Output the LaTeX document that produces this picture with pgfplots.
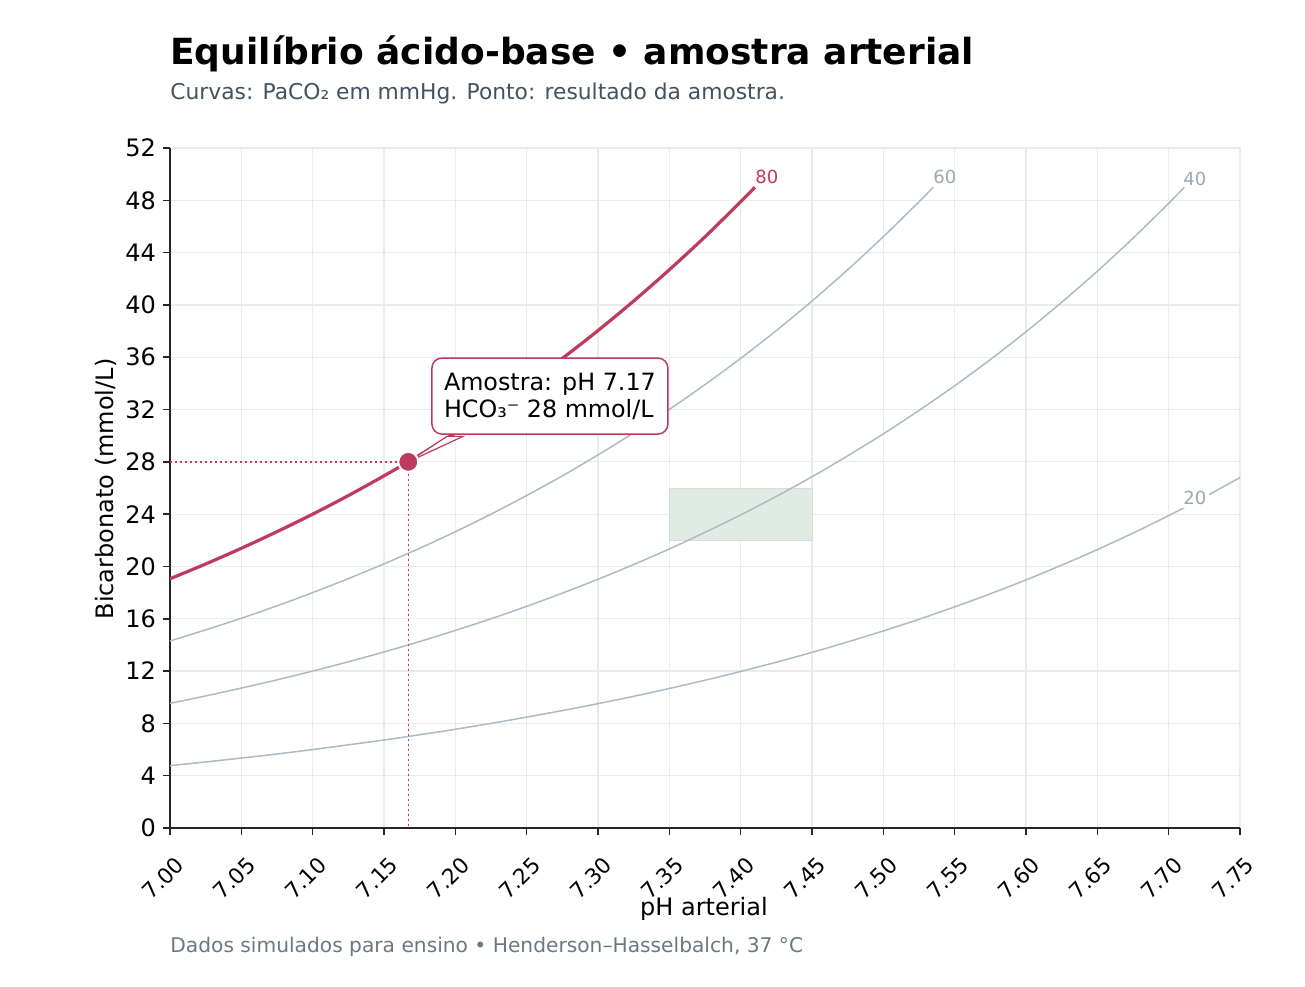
\documentclass[border=0pt]{standalone}
\usepackage{fontspec}
\setmainfont{DejaVu Sans}
\usepackage{pgfplots}
\pgfplotsset{compat=1.18}

\definecolor{crim}{HTML}{BE3A5F}
\definecolor{curvegray}{HTML}{AEBAC4}
\definecolor{labgray}{HTML}{9AA8B4}
\definecolor{gridc}{HTML}{EBEBEB}
\definecolor{axisc}{HTML}{262626}
\definecolor{normfill}{HTML}{E0EBE5}
\definecolor{normedge}{HTML}{D2E1D8}
\definecolor{subc}{HTML}{44525E}
\definecolor{footc}{HTML}{6B7884}

% HCO3 (mmol/L) against pH for each PaCO2 isobar
\pgfplotstableread{
ph    hco
7.000 4.77
7.025 5.05
7.050 5.35
7.075 5.66
7.100 6.00
7.125 6.36
7.150 6.73
7.175 7.13
7.200 7.55
7.225 8.00
7.250 8.48
7.275 8.98
7.300 9.51
7.325 10.07
7.350 10.67
7.375 11.30
7.400 11.97
7.425 12.68
7.450 13.43
7.475 14.23
7.500 15.07
7.525 15.96
7.550 16.91
7.575 17.91
7.600 18.97
7.625 20.10
7.650 21.29
7.675 22.55
7.700 23.89
7.725 25.30
7.750 26.80
}\pcotwenty

\pgfplotstableread{
ph    hco
7.000 9.53
7.025 10.10
7.050 10.70
7.075 11.33
7.100 12.00
7.125 12.71
7.150 13.46
7.175 14.26
7.200 15.11
7.225 16.00
7.250 16.95
7.275 17.96
7.300 19.02
7.325 20.15
7.350 21.34
7.375 22.61
7.400 23.94
7.425 25.36
7.450 26.86
7.475 28.46
7.500 30.14
7.525 31.93
7.550 33.82
7.575 35.82
7.600 37.95
7.625 40.20
7.650 42.58
7.675 45.10
7.700 47.77
7.711 49.00
}\pcoforty

\pgfplotstableread{
ph    hco
7.000 14.30
7.025 15.15
7.050 16.04
7.075 16.99
7.100 18.00
7.125 19.07
7.150 20.20
7.175 21.39
7.200 22.66
7.225 24.00
7.250 25.43
7.275 26.93
7.300 28.53
7.325 30.22
7.350 32.01
7.375 33.91
7.400 35.91
7.425 38.04
7.450 40.30
7.475 42.69
7.500 45.22
7.525 47.89
7.535 49.00
}\pcosixty

\pgfplotstableread{
ph    hco
7.000 19.06
7.025 20.19
7.050 21.39
7.075 22.66
7.100 24.00
7.125 25.42
7.150 26.93
7.175 28.52
7.200 30.21
7.225 32.00
7.250 33.90
7.275 35.91
7.300 38.04
7.325 40.30
7.350 42.69
7.375 45.21
7.400 47.89
7.410 49.00
}\pcoeighty

\begin{document}
\begin{tikzpicture}
\path[use as bounding box] (0,0) rectangle (652.5pt,493pt);
\begin{axis}[
  at={(85pt,79pt)}, anchor=south west,
  scale only axis, width=535pt, height=340pt,
  xmin=7, xmax=7.75, ymin=0, ymax=52,
  axis x line*=bottom, axis y line*=left,
  axis line style={axisc, line width=0.75pt},
  xtick={7.00,7.05,7.10,7.15,7.20,7.25,7.30,7.35,7.40,7.45,7.50,7.55,7.60,7.65,7.70,7.75},
  ytick={0,4,8,12,16,20,24,28,32,36,40,44,48,52},
  xticklabel={\pgfmathprintnumber[fixed,fixed zerofill,precision=2]{\tick}},
  /pgf/number format/assume math mode=true,
  tick align=outside, major tick length=3.5pt,
  tick style={axisc, line width=0.75pt},
  grid=major, major grid style={gridc, line width=0.6pt},
  yticklabel style={font=\fontsize{12}{14}\selectfont},
  xticklabel style={font=\fontsize{10.8}{13}\selectfont, anchor=center, xshift=-3.5pt, yshift=-21.5pt, rotate=45},
  clip=false,
]
% normal range
\addplot[fill=normfill, draw=normedge, line width=0.5pt] coordinates {(7.35,22) (7.45,22) (7.45,26) (7.35,26) (7.35,22)};

\addplot[curvegray, line width=0.75pt, smooth] table[x=ph, y=hco] {\pcotwenty};
\addplot[curvegray, line width=0.75pt, smooth] table[x=ph, y=hco] {\pcoforty};
\addplot[curvegray, line width=0.75pt, smooth] table[x=ph, y=hco] {\pcosixty};
\addplot[crim, line width=1.6pt, smooth] table[x=ph, y=hco] {\pcoeighty};

% isobar labels
\node[anchor=west, fill=white, inner sep=1.5pt, text=labgray, font=\fontsize{9}{10}\selectfont] at (axis cs:7.708,25.23) {20};
\node[anchor=west, inner sep=1.5pt, text=labgray, font=\fontsize{9}{10}\selectfont] at (axis cs:7.708,49.6) {40};
\node[anchor=west, inner sep=1.5pt, text=labgray, font=\fontsize{9}{10}\selectfont] at (axis cs:7.5327,49.77) {60};
\node[anchor=west, inner sep=1.5pt, text=crim, font=\fontsize{9}{10}\selectfont] at (axis cs:7.4079,49.77) {80};

% guide lines to the sample
\addplot[crim, line width=0.75pt, dash pattern=on 1.2pt off 1.3pt] coordinates {(7.0,28) (7.167,28) (7.167,0)};

% annotation
\draw[crim, line width=0.6pt, fill=white] (axis cs:7.167,28) -- (axis cs:7.1942,29.95) -- (axis cs:7.2054,29.95) -- cycle;
\node[draw=crim, line width=0.75pt, fill=white, rounded corners=5pt, align=left,
      minimum width=118pt, minimum height=38pt, inner xsep=6pt,
      font=\fontsize{11.9}{13.5}\selectfont] at (axis cs:7.2663,33.03)
      {Amostra: pH 7.17\\HCO₃⁻ 28 mmol/L};

\addplot[only marks, mark=*, mark size=5pt, mark options={fill=crim, draw=white, line width=1pt}] coordinates {(7.167,28)};
\end{axis}

\node[anchor=base west, inner sep=0pt, font=\fontsize{18}{21}\selectfont\bfseries] at (85pt,460.5pt) {Equilíbrio ácido-base • amostra arterial};
\node[anchor=base west, inner sep=0pt, text=subc, font=\fontsize{10.9}{13}\selectfont] at (85pt,443pt) {Curvas: PaCO₂ em mmHg. Ponto: resultado da amostra.};
\node[anchor=base, inner sep=0pt, font=\fontsize{12}{14}\selectfont] at (352pt,35.5pt) {pH arterial};
\node[anchor=base, inner sep=0pt, rotate=90, font=\fontsize{12}{14}\selectfont] at (56.5pt,248.5pt) {Bicarbonato (mmol/L)};
\node[anchor=base west, inner sep=0pt, text=footc, font=\fontsize{10.1}{12}\selectfont] at (85pt,17pt) {Dados simulados para ensino • Henderson–Hasselbalch, 37 °C};
\end{tikzpicture}
\end{document}
